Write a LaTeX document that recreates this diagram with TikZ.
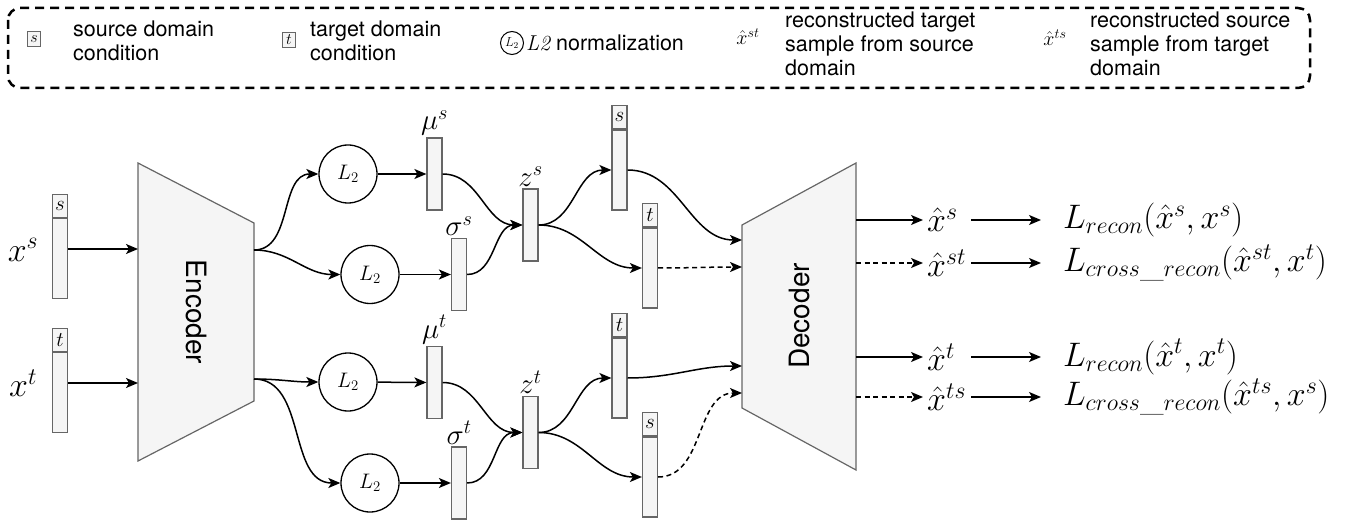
\RequirePackage{fix-cm}
\documentclass[tikz,border=0pt]{standalone}
\usepackage{fontspec}
\setsansfont{TeX Gyre Heros}
\usepackage{tikz}
\usetikzlibrary{arrows.meta,positioning,calc}

\definecolor{vgray}{HTML}{666666}
\definecolor{vfill}{HTML}{F5F5F5}

\begin{document}
\begin{tikzpicture}[
  x=1pt, y=-1pt,
  lbl/.style={font=\fontsize{34}{40}\selectfont, inner sep=1pt},
  vlbl/.style={font=\fontsize{29}{34}\selectfont, inner sep=2pt},
  vec/.style={draw=vgray, fill=vfill, line width=1.2pt, minimum width=15pt, minimum height=80pt, inner sep=0pt},
  vsm/.style={vec, minimum height=72pt},
  cnd/.style={vec, minimum height=23pt, font=\fontsize{21}{24}\selectfont},
  lnorm/.style={circle, draw, line width=1.3pt, minimum size=58pt, inner sep=0pt, font=\fontsize{21}{24}\selectfont},
  coder/.style={draw=vgray, fill=vfill, line width=1.2pt},
  codertxt/.style={font=\sffamily\fontsize{28}{32}\selectfont},
  arr/.style={-{Stealth[length=12pt,width=10pt,inset=3pt]}, line width=1.5pt},
  darr/.style={arr, dash pattern=on 5pt off 3.5pt},
  hat/.style={lbl, anchor=west, text width=40pt, inner xsep=4pt, inner ysep=0pt},
  loss/.style={lbl, anchor=west, inner xsep=2pt, inner ysep=0pt, outer xsep=20pt},
  legbox/.style={draw, line width=2.5pt, dash pattern=on 9pt off 6pt, rounded corners=12pt},
  lcnd/.style={draw=vgray, fill=vfill, line width=1pt, minimum width=13pt, minimum height=15pt, inner sep=0pt, font=\fontsize{16}{18}\selectfont},
  ltxt/.style={font=\sffamily\fontsize{21.5}{24}\selectfont, align=left, inner sep=2pt},
  lmath/.style={font=\fontsize{20}{23}\selectfont, inner sep=1pt}
]
\useasboundingbox (0,0) rectangle (1346,521);

% legend
\draw[legbox] (8,8) rectangle (1310,88);
\node[lcnd] (legs) at (34,39) {$s$};
\node[ltxt, anchor=west] (legstxt) at (71,41) {source domain\\condition};
\node[lcnd] (legt) at (289,40) {$t$};
\node[ltxt, anchor=west] (legttxt) at (308,41) {target domain\\condition};
\node[lnorm, minimum size=23pt, line width=1pt, font=\fontsize{13}{15}\selectfont] (legl) at (512,43) {$L_2$};
\node[ltxt, anchor=west] (legltxt) at (legl.east) {{\rmfamily\itshape L2} normalization};
\node[lmath] (legst) at (748,37) {$\hat{x}^{st}$};
\node[ltxt, anchor=west] (legsttxt) at (783,44) {reconstructed target\\sample from source\\domain};
\node[lmath] (legts) at (1055,38) {$\hat{x}^{ts}$};
\node[ltxt, anchor=west] (legtstxt) at (1088,44) {reconstructed source\\sample from target\\domain};

% inputs
\node[vec] (xsb) at (60,258.5) {};
\node[cnd, above=0pt of xsb] (xsh) {$s$};
\node[lbl] (xs) at (23,250) {$x^s$};
\node[vec] (xtb) at (60,392.5) {};
\node[cnd, above=0pt of xtb] (xth) {$t$};
\node[lbl] (xt) at (23,383) {$x^t$};

% encoder
\draw[coder] (138,163) -- (254,223) -- (254,401) -- (138,461) -- cycle;
\node[codertxt, rotate=-90] (enc) at (196,312) {Encoder};
\coordinate (encS) at (138,249);
\coordinate (encT) at (138,383);
\coordinate (encA) at (254,250);
\coordinate (encB) at (254,379);
\draw[arr] (xsb.east |- encS) -- (encS);
\draw[arr] (xtb.east |- encT) -- (encT);

% source branch
\node[lnorm] (lms) at (348,174) {$L_2$};
\node[lnorm] (lss) at (370,274.5) {$L_2$};
\node[vsm] (mus) at (434.5,174) {};
\node[vlbl, above=0pt of mus] (muslbl) {$\mu^s$};
\node[vsm] (sigs) at (459,274.5) {};
\node[vlbl, above=0pt of sigs] (sigslbl) {$\sigma^s$};
\node[vsm] (zs) at (530.5,225) {};
\node[vlbl, above=0pt of zs] (zslbl) {$z^s$};
\node[vec] (csb) at (619.5,170) {};
\node[cnd, above=0pt of csb] (csh) {$s$};
\node[vec] (ctb) at (650,268) {};
\node[cnd, above=0pt of ctb] (cth) {$t$};
\draw[arr] (encA) to[out=0,in=180] (lms);
\draw[arr] (encA) to[out=0,in=180] (lss);
\draw[arr] (lms) -- (mus);
\draw[arr] (lss) -- (sigs);
\draw[arr] (mus) to[out=0,in=180] (zs);
\draw[arr] (sigs) to[out=0,in=180] (zs);
\draw[arr] (zs) to[out=0,in=180] (csb);
\draw[arr] (zs) to[out=0,in=180] (ctb);

% target branch
\node[lnorm] (lmt) at (348,382) {$L_2$};
\node[lnorm] (lst) at (370,483) {$L_2$};
\node[vsm] (mut) at (434.5,382.5) {};
\node[vlbl, above=0pt of mut] (mutlbl) {$\mu^t$};
\node[vsm] (sigt) at (459,483) {};
\node[vlbl, above=0pt of sigt] (sigtlbl) {$\sigma^t$};
\node[vsm] (zt) at (530.5,432.5) {};
\node[vlbl, above=0pt of zt] (ztlbl) {$z^t$};
\node[vec] (ltb) at (619.5,378) {};
\node[cnd, above=0pt of ltb] (lth) {$t$};
\node[vec] (lsb) at (650,477) {};
\node[cnd, above=0pt of lsb] (lsh) {$s$};
\draw[arr] (encB) to[out=0,in=180] (lmt);
\draw[arr] (encB) to[out=0,in=180] (lst);
\draw[arr] (lmt) -- (mut);
\draw[arr] (lst) -- (sigt);
\draw[arr] (mut) to[out=0,in=180] (zt);
\draw[arr] (sigt) to[out=0,in=180] (zt);
\draw[arr] (zt) to[out=0,in=180] (ltb);
\draw[arr] (zt) to[out=0,in=180] (lsb);

% decoder
\draw[coder] (742,225) -- (856,163) -- (856,470) -- (742,408) -- cycle;
\node[codertxt, rotate=90] (dec) at (799,316) {Decoder};
\coordinate (decA) at (742,240);
\coordinate (decB) at (742,267);
\coordinate (decC) at (742,366);
\coordinate (decD) at (742,393);
\draw[arr] (csb) to[out=0,in=180] (decA);
\draw[darr] (ctb) to[out=0,in=180] (decB);
\draw[arr] (ltb) to[out=0,in=180] (decC);
\draw[darr] (lsb) to[out=0,in=180] (decD);

% outputs and losses
\coordinate (outA) at (856,220);
\coordinate (outB) at (856,263);
\coordinate (outC) at (856,357);
\coordinate (outD) at (856,397);
\node[hat] (xhs) at (923,220) {$\hat{x}^{s}$};
\node[hat] (xhst) at (923,263) {$\hat{x}^{st}$};
\node[hat] (xht) at (923,357) {$\hat{x}^{t}$};
\node[hat] (xhts) at (923,397) {$\hat{x}^{ts}$};
\node[loss] (lrs) at (1041,220) {$L_{recon}(\hat{x}^{s},x^{s})$};
\node[loss] (lcst) at (1041,263) {$L_{cross\_recon}(\hat{x}^{st},x^{t})$};
\node[loss] (lrt) at (1041,357) {$L_{recon}(\hat{x}^{t},x^{t})$};
\node[loss] (lcts) at (1041,397) {$L_{cross\_recon}(\hat{x}^{ts},x^{s})$};
\draw[arr] (outA) -- (xhs);
\draw[darr] (outB) -- (xhst);
\draw[arr] (outC) -- (xht);
\draw[darr] (outD) -- (xhts);
\draw[arr] (xhs) -- (lrs);
\draw[arr] (xhst) -- (lcst);
\draw[arr] (xht) -- (lrt);
\draw[arr] (xhts) -- (lcts);
\end{tikzpicture}
\end{document}
